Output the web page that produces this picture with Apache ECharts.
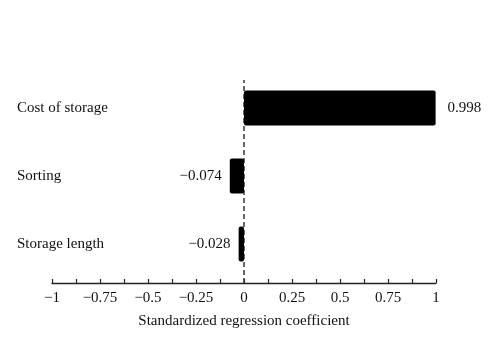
<!DOCTYPE html>
<html>
<head>
<meta charset="utf-8">
<script src="https://cdn.jsdelivr.net/npm/echarts@6/dist/echarts.min.js"></script>
<style>html,body{margin:0;padding:0;background:#fff}#c{width:500px;height:347px}</style>
</head>
<body>
<div id="c"></div>
<script>
const categories = ['Cost of storage', 'Sorting', 'Storage length'];
const values = [0.998, -0.074, -0.028];
const xTicks = [-1, -0.75, -0.5, -0.25, 0, 0.25, 0.5, 0.75, 1];
const zeroLine = [[0, 0], [0, 1]];

const FONT = '"Liberation Serif", "DejaVu Serif", serif';
const fmt = v => (v < 0 ? '\u2212' + String(Math.abs(v)) : String(v));

const chart = echarts.init(document.getElementById('c'), null, {renderer: 'canvas'});
chart.setOption({
  animation: false,
  backgroundColor: '#fff',
  grid: [
    {left: 52, right: 64, top: 74, height: 204},
    {left: 52, right: 64, top: 80, bottom: 64}
  ],
  xAxis: [
    {
      gridIndex: 0, type: 'value', min: -1, max: 1, interval: 0.25,
      offset: 5,
      axisLine: {show: true, lineStyle: {color: '#222', width: 1.3}},
      axisTick: {show: true, inside: true, length: 4, lineStyle: {color: '#222', width: 1.2}},
      minorTick: {show: true, splitNumber: 2, length: 4, lineStyle: {color: '#222', width: 1.2}},
      splitLine: {show: false},
      axisLabel: {
        margin: 8, color: '#111', fontFamily: FONT, fontSize: 15,
        formatter: v => fmt(xTicks.find(t => Math.abs(t - v) < 1e-9) ?? v)
      },
      name: 'Standardized regression coefficient',
      nameLocation: 'middle', nameGap: 31,
      nameTextStyle: {color: '#111', fontFamily: FONT, fontSize: 15}
    },
    {gridIndex: 1, type: 'value', min: -1, max: 1, show: false}
  ],
  yAxis: [
    {
      gridIndex: 0, type: 'category', data: categories, inverse: true,
      axisLine: {show: false}, axisTick: {show: false}, splitLine: {show: false},
      axisLabel: {align: 'left', margin: 35, color: '#111', fontFamily: FONT, fontSize: 15}
    },
    {gridIndex: 1, type: 'value', min: 0, max: 1, show: false}
  ],
  series: [
    {
      type: 'line', xAxisIndex: 1, yAxisIndex: 1, data: zeroLine,
      symbol: 'none', silent: true, z: 1,
      lineStyle: {color: '#333', width: 1.5, type: [5, 3]}
    },
    {
      type: 'bar', xAxisIndex: 0, yAxisIndex: 0, barWidth: 35, z: 3,
      itemStyle: {color: '#000', borderRadius: 2},
      data: values.map(v => ({
        value: v,
        label: {
          show: true, position: v < 0 ? 'left' : 'right', distance: v < 0 ? 8 : 12,
          color: '#111', fontFamily: FONT, fontSize: 15,
          formatter: p => fmt(p.value)
        }
      }))
    }
  ]
});
</script>
</body>
</html>
